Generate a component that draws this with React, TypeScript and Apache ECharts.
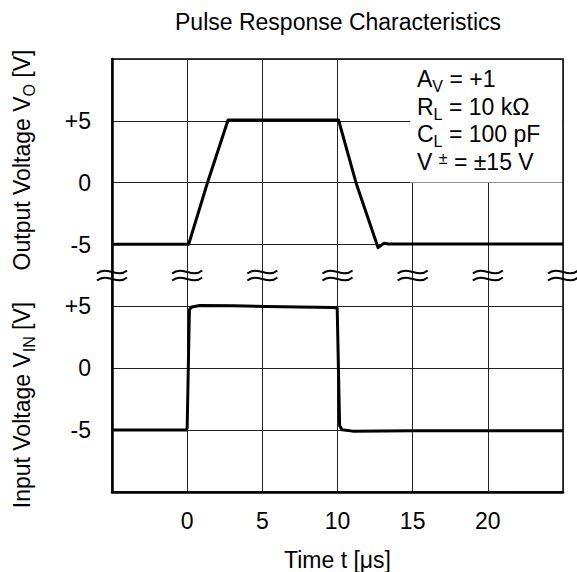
import React, { useEffect, useRef } from 'react';
import * as echarts from 'echarts';

const FONT = '"Liberation Sans", Arial, Helvetica, sans-serif';
const FS = 23;

// Axis ticks and labels
const xTicks = [-5, 0, 5, 10, 15, 20, 25];
const xTickLabels = ['', '0', '5', '10', '15', '20', ''];
const outTickValues = [5, 0, -5];
const outTickLabels = ['+5', '0', '-5'];
const inTickValues = [5, 0, -5];
const inTickLabels = ['+5', '0', '-5'];

// Output voltage V_O (upper panel)
const outT = [-5, 0.1, 1.35, 2.72, 10.07, 11.23, 12.7, 12.85, 13.1, 13.4, 25];
const outV = [-4.97, -4.97, 0, 5.07, 5.07, 0, -5.25, -5.1, -4.9, -4.96, -4.96];

// Input voltage V_IN (lower panel)
const inT = [-5, -0.05, 0.0, 0.15, 0.3, 0.84, 3.06, 5.27, 7.48, 9.7, 9.98, 10.14, 10.3, 11.0, 15, 20, 25];
const inV = [-4.98, -4.98, -4.8, 4.75, 4.95, 5.08, 5.06, 5.0, 4.95, 4.92, 4.88, -4.63, -4.96, -5.08, -5.05, -5.05, -5.05];

// Axis-break marks (on the output axis, between the two panels)
const breakT = [-5, 0, 5, 10, 15, 20, 25];
const breakV = -7.5;

const titleText = 'Pulse Response Characteristics';
const xName = 'Time t [μs]';
const outName = '{m|Output Voltage V}{s|O}{m| [V]}';
const inName = '{m|Input Voltage V}{s|IN}{m| [V]}';
const notes = [
  '{m|A}{s|V}{m| = +1}',
  '{m|R}{s|L}{m| = 10 kΩ}',
  '{m|C}{s|L}{m| = 100 pF}',
  '{m|V }{p|±}{m| = ±15 V}',
];

const richStyles = {
  m: { fontSize: FS, lineHeight: 24, fontFamily: FONT, fill: '#000', verticalAlign: 'top' },
  s: { fontSize: 16, lineHeight: 16, fontFamily: FONT, fill: '#000', verticalAlign: 'top', padding: [11, 0, 0, 0] },
  p: { fontSize: 16, lineHeight: 16, fontFamily: FONT, fill: '#000', verticalAlign: 'top' },
};

const pick = (vals: number[], labels: string[]) => (v: number) => {
  const i = vals.indexOf(v);
  return i >= 0 ? labels[i] : '';
};

export default function App() {
  const ref = useRef<HTMLDivElement>(null);
  useEffect(() => {
    const chart = echarts.init(ref.current!, null, { renderer: 'svg' });
    const noteTops = [67, 95, 122.5, 150];
    const option: any = {
      animation: false,
      backgroundColor: '#fff',
      title: {
        text: titleText,
        left: 338,
        top: 10,
        padding: 0,
        textAlign: 'center',
        textStyle: { fontSize: FS, fontWeight: 'normal', color: '#000', fontFamily: FONT },
      },
      grid: {
        left: 112,
        top: 59,
        width: 451,
        height: 433,
        containLabel: false,
        outerBoundsMode: 'none',
        show: true,
        borderColor: '#000',
        borderWidth: 1.5,
        backgroundColor: 'transparent',
      },
      xAxis: {
        type: 'value',
        min: -5,
        max: 25,
        interval: 5,
        name: xName,
        nameLocation: 'middle',
        nameGap: 56,
        nameTextStyle: { fontSize: FS, color: '#000', fontFamily: FONT },
        axisLine: { show: true, onZero: false, lineStyle: { color: '#000', width: 2.5 } },
        axisTick: { show: false },
        axisLabel: {
          margin: 17,
          fontSize: FS,
          color: '#000',
          fontFamily: FONT,
          formatter: pick(xTicks, xTickLabels),
        },
        splitLine: { show: true, lineStyle: { color: '#222', width: 1 } },
      },
      yAxis: [
        {
          type: 'value',
          min: -25,
          max: 10,
          interval: 5,
          position: 'left',
          axisLine: { show: true, onZero: false, lineStyle: { color: '#000', width: 2.5 } },
          axisTick: { show: false },
          axisLabel: {
            margin: 21,
            fontSize: FS,
            color: '#000',
            fontFamily: FONT,
            formatter: pick(outTickValues, outTickLabels),
          },
          splitLine: { show: true, lineStyle: { color: '#222', width: 1 } },
        },
        {
          type: 'value',
          min: -10,
          max: 25,
          interval: 5,
          position: 'left',
          offset: 0,
          axisLine: { show: false, onZero: false },
          axisTick: { show: false },
          axisLabel: {
            margin: 21,
            fontSize: FS,
            color: '#000',
            fontFamily: FONT,
            formatter: pick(inTickValues, inTickLabels),
          },
          splitLine: { show: false },
        },
      ],
      graphic: [
        {
          type: 'rect',
          z: 5,
          shape: { x: 410, y: 60, width: 152, height: 122.5 },
          style: { fill: '#fff', stroke: null },
        },
        ...notes.map((t, i) => ({
          type: 'text',
          z: 6,
          x: 417,
          y: noteTops[i],
          style: {
            text: t,
            rich: richStyles,
            fill: '#000',
            align: 'left',
            verticalAlign: 'top',
            textAlign: 'left',
            textVerticalAlign: 'top',
          },
        })),
        {
          type: 'text',
          z: 6,
          x: 22,
          y: 160,
          rotation: Math.PI / 2,
          style: {
            text: outName,
            rich: richStyles,
            fill: '#000',
            align: 'center',
            verticalAlign: 'middle',
            textAlign: 'center',
            textVerticalAlign: 'middle',
          },
        },
        {
          type: 'text',
          z: 6,
          x: 22,
          y: 405,
          rotation: Math.PI / 2,
          style: {
            text: inName,
            rich: richStyles,
            fill: '#000',
            align: 'center',
            verticalAlign: 'middle',
            textAlign: 'center',
            textVerticalAlign: 'middle',
          },
        },
      ],
      series: [
        {
          name: 'Output',
          type: 'line',
          xAxisIndex: 0,
          yAxisIndex: 0,
          showSymbol: false,
          symbol: 'none',
          lineStyle: { color: '#000', width: 3, join: 'round' },
          data: outT.map((t, i) => [t, outV[i]]),
          z: 3,
        },
        {
          name: 'Input',
          type: 'line',
          xAxisIndex: 0,
          yAxisIndex: 1,
          showSymbol: false,
          symbol: 'none',
          lineStyle: { color: '#000', width: 3, join: 'round' },
          data: inT.map((t, i) => [t, inV[i]]),
          z: 3,
        },
        {
          name: 'break',
          type: 'custom',
          xAxisIndex: 0,
          yAxisIndex: 0,
          silent: true,
          clip: false,
          z: 4,
          data: breakT.map((t) => [t, breakV]),
          renderItem: (_params: any, api: any) => {
            const p = api.coord([api.value(0), api.value(1)]);
            const cx = p[0];
            const cy = p[1];
            const wave = (dy: number) => ({
              type: 'bezierCurve',
              shape: {
                x1: cx - 15, y1: cy + dy + 1.5,
                cpx1: cx - 5, cpy1: cy + dy - 7,
                cpx2: cx + 5, cpy2: cy + dy + 7,
                x2: cx + 15, y2: cy + dy - 1.5,
              },
              style: { stroke: '#000', fill: null, lineWidth: 2 },
            });
            return { type: 'group', children: [wave(-3.5), wave(3.5)] };
          },
        },
      ],
    };
    chart.setOption(option);
    return () => chart.dispose();
  }, []);
  return (
    <div
      ref={ref}
      style={{ position: 'fixed', left: 0, top: 0, width: 577, height: 572, background: '#fff' }}
    />
  );
}
